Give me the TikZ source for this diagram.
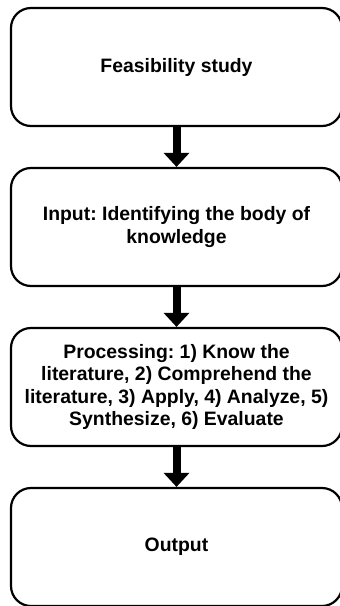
\documentclass[tikz,border=0pt]{standalone}
\usepackage{fontspec}
\setmainfont{Liberation Sans}
\usetikzlibrary{arrows.meta}
\frenchspacing
\begin{document}
\begin{tikzpicture}[x=1pt,y=-1pt,
  stagebox/.style={draw=black, line width=2.2pt, rounded corners=20pt,
    minimum width=331pt, minimum height=118pt, align=center,
    inner sep=0pt, font=\fontsize{19.4}{22.6}\selectfont\bfseries},
  flowarrow/.style={line width=8pt, -{Triangle[width=25pt,length=14pt]}}]
  \useasboundingbox (0,0) rectangle (340,606);
  \node[stagebox] (feas) at (176.5,67) {Feasibility study};
  \node[stagebox] (input) at (176.5,227) {Input: Identifying the body of\\knowledge};
  \node[stagebox] (proc) at (176.5,387) {Processing: 1) Know the\\literature, 2) Comprehend the\\literature, 3) Apply, 4) Analyze, 5)\\Synthesize, 6) Evaluate};
  \node[stagebox] (out) at (176.5,547) {Output};
  \draw[flowarrow] (feas.south) -- (input.north);
  \draw[flowarrow] (input.south) -- (proc.north);
  \draw[flowarrow] (proc.south) -- (out.north);
\end{tikzpicture}
\end{document}
